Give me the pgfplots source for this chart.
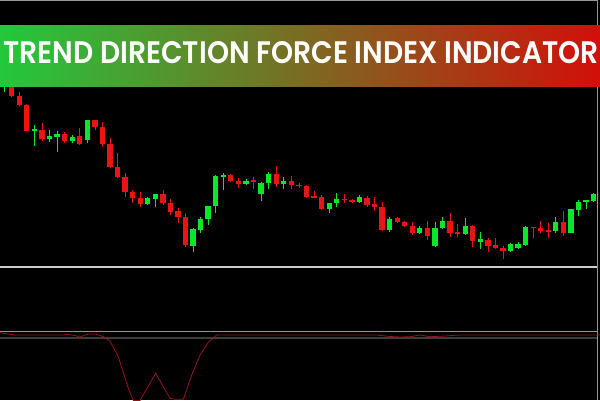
\documentclass[border=0pt]{standalone}
\usepackage{pgfplots}
\pgfplotsset{compat=1.18}
\usepackage{pgfplotstable}
\usepackage{fontspec}
\setmainfont{Poppins}[BoldFont={Poppins SemiBold}]
\usepackage{graphicx}

\definecolor{cgreen}{RGB}{10,230,40}
\definecolor{cred}{RGB}{235,20,20}
\definecolor{bl}{RGB}{35,200,60}
\definecolor{bm}{RGB}{110,115,35}
\definecolor{br}{RGB}{210,15,10}
\definecolor{ind}{RGB}{150,20,20}

% x, body top, body bottom, high, low (in screen units, y downwards)
\pgfplotstableread{
x top bot hi lo
4 83 87 80 92
34.3 129.5 130.5 125 145.7
49.3 136 139 130 142
57 134 136.7 131 152
72.3 136.7 140.7 135 143
87.3 120 140 120 143
147.7 197.7 204 196.7 205.3
155.3 194.3 198.7 194 206.7
193 229.3 245.7 228 251.7
200.3 219.3 230 216.7 232.7
208 206 219.3 206 225
215.7 176 206 175 213.3
223.3 175.2 176.2 172.7 190
246 181 184 179.3 185
261 183.3 194 181.7 200.7
268.7 174 183.3 171.7 189.3
283.7 180.7 184 177.3 189.3
329.3 203.3 209 202.7 212.7
336.7 199 203.3 192.7 206.7
359.3 197.3 202.3 195 203.3
389.7 219 230 217.3 231.7
419.7 228.3 233.3 226 234
435 228.3 246 221.7 246.7
442.3 221 227.7 216.7 229.3
465.3 226 234.3 218.3 235
480.3 239 241.7 231.7 249.3
510.3 244 250.7 243.3 251.7
518 244 248.3 242 249
525.7 227.3 245 226 246
555.7 222.3 231 216.7 233.3
571 209.3 233.3 208.7 233.3
578.7 202.3 210 200 216
586 200.2 201.2 200 209.3
593.7 194 200.7 193 201.7
}\greentab

\pgfplotstableread{
x top bot hi lo
11.7 86.7 95.7 86 97
19.3 96 105 92 106
26.7 105 130.7 104 131
42 130 139 123 141
64.7 134 140.7 132 143
79.7 136 143.7 128 145
95 120 126.7 120 130
102.7 126.7 144.3 122 147
110 144 166.7 138 167.5
117.3 166.7 176.7 153 177.5
125 176.7 191.7 172.7 196.7
132.7 192 197.7 190 203.3
140.3 197.7 204 191.7 206.7
163 194.3 203.3 190 205
170.3 203.3 211.7 199.3 215
178 211 217.3 208.3 223.3
185.3 217.3 245 213.3 246.7
230.7 175 180.7 174 182
238.3 180.7 184 178.3 187.7
253.3 180.5 181.5 177.3 189.3
276.3 174 184.3 165.7 186.7
291.3 181 185.3 176 189.3
299 184.8 185.8 183.3 188.3
306.3 186 196.7 185 197.5
314 195.7 197.7 190.7 198.3
321.7 196.7 209 195 210
344.3 198.8 199.8 194 203.3
352 200 202.3 198.5 203
367 197.7 205 196 207.3
374.3 204 207.3 197.3 210.7
382 207.3 230 201.7 230.7
397.3 218.3 221.7 217 222.5
404.3 221.7 226 220.5 226.5
412.3 225.7 233.3 221.7 235
427.3 228.3 236 220.7 240
450 221 232.7 212.7 236.7
457.7 231.7 234.3 224 236.7
472.7 226 241 225 246.7
488 240 245.7 238.3 251.7
495.3 245 248 238.3 248.7
503 248 250.7 246 259.3
533.3 226.8 227.8 226.7 237.7
540.7 228.3 231 220.7 233.3
548.3 230.5 231.5 223.3 238.3
563.3 222.3 233.3 210.7 235.7
}\redtab

\begin{document}
\begin{tikzpicture}
\clip (0,0) rectangle (600pt,400pt);
\fill[black] (0,0) rectangle (600pt,400pt);
\begin{axis}[
  scale only axis, width=600pt, height=400pt,
  xmin=0, xmax=600, ymin=0, ymax=400, y dir=reverse,
  hide axis, clip=true,
]
% wicks
\addplot[mark=none, draw=none, forget plot,
  error bars/.cd, y dir=both, y explicit, error mark=none,
  error bar style={draw=cgreen, line width=1pt}]
  table[x=x, y expr={(\thisrow{hi}+\thisrow{lo})/2}, y error expr={(\thisrow{lo}-\thisrow{hi})/2}] {\greentab};
\addplot[mark=none, draw=none, forget plot,
  error bars/.cd, y dir=both, y explicit, error mark=none,
  error bar style={draw=cred, line width=1pt}]
  table[x=x, y expr={(\thisrow{hi}+\thisrow{lo})/2}, y error expr={(\thisrow{lo}-\thisrow{hi})/2}] {\redtab};
% bodies
\addplot[mark=none, draw=none, forget plot,
  error bars/.cd, y dir=both, y explicit, error mark=none,
  error bar style={draw=cgreen, line width=5.5pt}]
  table[x=x, y expr={(\thisrow{top}+\thisrow{bot})/2}, y error expr={max((\thisrow{bot}-\thisrow{top})/2,0.75)}] {\greentab};
\addplot[mark=none, draw=none, forget plot,
  error bars/.cd, y dir=both, y explicit, error mark=none,
  error bar style={draw=cred, line width=5.5pt}]
  table[x=x, y expr={(\thisrow{top}+\thisrow{bot})/2}, y error expr={max((\thisrow{bot}-\thisrow{top})/2,0.75)}] {\redtab};

% panel separators and levels
\addplot[color={rgb,255:red,205;green,205;blue,205}, line width=2pt] coordinates {(0,267.3) (597,267.3)};
\addplot[color={rgb,255:red,150;green,150;blue,150}, line width=0.9pt] coordinates {(0,331.7) (597,331.7)};
\addplot[color={rgb,255:red,60;green,60;blue,60}, line width=1.5pt] coordinates {(0,337.8) (597,337.8)};
\addplot[color={rgb,255:red,150;green,150;blue,150}, line width=0.8pt] coordinates {(0,0.5) (597,0.5)};
\addplot[color={rgb,255:red,150;green,150;blue,150}, line width=0.8pt] coordinates {(597,0) (597,400)};

% indicator line
\addplot[ind, line width=0.8pt] coordinates {
(0,332.7) (8,334) (15,335) (40,335) (62,335) (68,334.5) (75,335.5) (80,337)
(88,334) (95,334) (100,335.5) (104,337) (110,341) (118.3,356.7) (128.3,388.3)
(133.3,400.5) (140,400.5) (155.7,373.3) (170,398.3) (175,399.3) (183.3,399.3)
(191.7,375) (200,355) (208.3,342.3) (216.7,335) (376.7,335) (390,336.5)
(400,337) (410,336.7) (420,335) (430,336.7) (445,336) (460,335) (600,335)};

% banner
\fill[left color=bl, middle color=bm, right color=br] (axis cs:0,25) rectangle (axis cs:600,86);
\node[anchor=base west, text=white, inner sep=0pt] at (axis cs:3.5,63.5)
  {\resizebox{595pt}{22pt}{\bfseries TREND DIRECTION FORCE INDEX INDICATOR}};
\end{axis}
\end{tikzpicture}
\end{document}
